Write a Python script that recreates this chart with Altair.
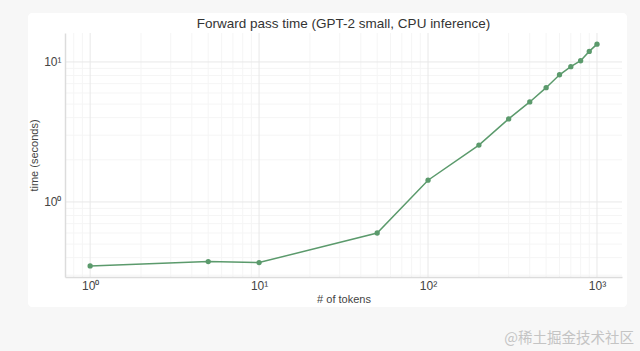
import json
import altair as alt
import pandas as pd

# ---- data ----
tokens = [1, 5, 10, 50, 100, 200, 300, 400, 500, 600, 700, 800, 900, 1000]
times = [0.349, 0.375, 0.369, 0.60, 1.43, 2.55, 3.92, 5.18, 6.55, 8.1, 9.25, 10.2, 11.9, 13.4]

x_major = [1, 10, 100, 1000]
y_major = [1, 10]
x_minor = [0.8, 0.9, 2, 3, 4, 5, 6, 7, 8, 9, 20, 30, 40, 50, 60, 70, 80, 90,
           200, 300, 400, 500, 600, 700, 800, 900]
y_minor = [0.3, 0.4, 0.5, 0.6, 0.7, 0.8, 0.9, 2, 3, 4, 5, 6, 7, 8, 9]
tick_labels = ["10⁰", "10¹", "10²", "10³"]
title_text = "Forward pass time (GPT-2 small, CPU inference)"
watermark_text = "@稀土掘金技术社区"

x_domain = [0.71, 1406]
y_domain = [0.291, 16.1]

GREEN = "#5b9a6c"
FONT = "Liberation Sans"
label_expr = json.dumps(tick_labels, ensure_ascii=False) + "[round(log(datum.value)/LN10)]"

xscale = alt.Scale(type="log", domain=x_domain, nice=False)
yscale = alt.Scale(type="log", domain=y_domain, nice=False)

xaxis = alt.Axis(
    values=x_major, labelExpr=label_expr, grid=False, ticks=False,
    domainColor="#dcdcdc", domainWidth=1.5, labelColor="#444", labelFontSize=12,
    labelFont=FONT, labelPadding=3, labelFlush=False,
    title="# of tokens", titleFont=FONT, titleFontSize=11, titleFontWeight="normal",
    titleColor="#444", titlePadding=2, zindex=1,
)
yaxis = alt.Axis(
    values=y_major, labelExpr=label_expr, grid=False, ticks=False,
    domainColor="#dcdcdc", domainWidth=1.5, labelColor="#444", labelFontSize=12,
    labelFont=FONT, labelPadding=4, labelFlush=False,
    title="time (seconds)", titleFont=FONT, titleFontSize=11, titleFontWeight="normal",
    titleColor="#444", titlePadding=4, zindex=1,
)

X = lambda: alt.X("tokens:Q", scale=xscale, axis=xaxis, title="# of tokens")
Y = lambda: alt.Y("time:Q", scale=yscale, axis=yaxis, title="time (seconds)")

df = pd.DataFrame({"tokens": tokens, "time": times})

card = alt.Chart(alt.Data(values=[{}])).mark_rect(color="white", cornerRadius=4).encode(
    x=alt.value(-37), x2=alt.value(562), y=alt.value(-20), y2=alt.value(274)
)

xminor = alt.Chart(pd.DataFrame({"tokens": x_minor})).mark_rule(color="#f5f5f5", strokeWidth=1).encode(x=X())
yminor = alt.Chart(pd.DataFrame({"time": y_minor})).mark_rule(color="#f5f5f5", strokeWidth=1).encode(y=Y())
xmajor = alt.Chart(pd.DataFrame({"tokens": x_major})).mark_rule(color="#e8e8e8", strokeWidth=1).encode(x=X())
ymajor = alt.Chart(pd.DataFrame({"time": y_major})).mark_rule(color="#e8e8e8", strokeWidth=1).encode(y=Y())

base = alt.Chart(df).encode(x=X(), y=Y())
line = base.mark_line(color=GREEN, strokeWidth=1.5)
points = base.mark_point(color=GREEN, filled=True, opacity=1, size=28)

title = alt.Chart(alt.Data(values=[{"t": title_text}])).mark_text(
    font=FONT, fontSize=13.5, color="#333", align="center", baseline="middle"
).encode(text="t:N", x=alt.value(278.5), y=alt.value(-9))

watermark = alt.Chart(alt.Data(values=[{"t": watermark_text}])).mark_text(
    font="Noto Sans CJK SC", fontSize=14.5, color="#c4c4c4", align="right", baseline="middle"
).encode(text="t:N", x=alt.value(569), y=alt.value(306))

chart = alt.layer(card, xminor, yminor, xmajor, ymajor, line, points, title, watermark).properties(
    width=557,
    height=244,
    autosize=alt.AutoSizeParams(type="none"),
    padding={"left": 65, "top": 33, "right": 18, "bottom": 74},
    background="#f7f7f7",
).configure_view(stroke=None)

chart.save("out.html", embed_options={"renderer": "svg", "actions": False})
